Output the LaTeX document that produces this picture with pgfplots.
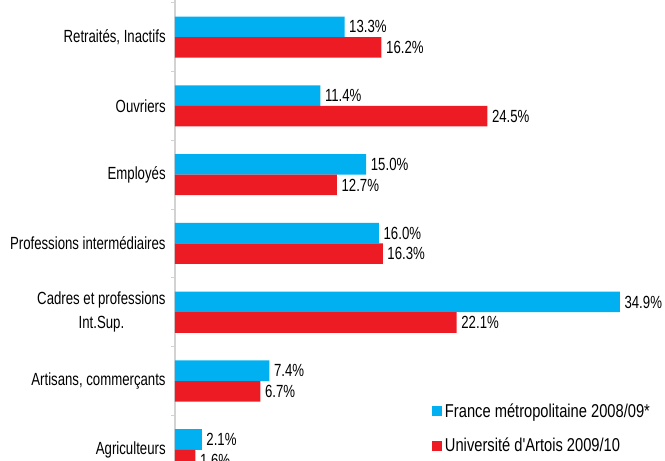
\documentclass[border=0pt]{standalone}
\usepackage{fontspec}
\setmainfont{Liberation Sans}[FakeStretch=0.75]
\newfontfamily\legfont{Liberation Sans}[FakeStretch=0.79]
\usepackage{pgfplots}
\pgfplotsset{compat=1.18}
\definecolor{bleu}{RGB}{0,176,240}
\definecolor{rouge}{RGB}{237,28,36}
\definecolor{axe}{RGB}{210,210,210}

\begin{document}
\begin{tikzpicture}
% 1px = 0.75pt, picture is 665 x 461 px, axis line at x = 175 px
\useasboundingbox (-131.25pt,0pt) rectangle (367.5pt,-345.75pt);
\clip (-131.25pt,0pt) rectangle (367.5pt,-345.75pt);
\begin{axis}[
    at={(0pt,0pt)}, anchor=north west,
    x=9.56pt, y=51.58pt,
    xmin=0, xmax=37,
    ymin=-0.5, ymax=6.54,
    xbar, bar width=15.4pt,
    axis x line=none,
    axis y line*=left,
    y axis line style={draw=axe, line width=0.8pt, -},
    ytick={0,...,6},
    yticklabels={Agriculteurs, {Artisans, commerçants}, {Cadres et professions\\Int.Sup.}, Professions intermédiaires, Employés, Ouvriers, {Retraités, Inactifs}},
    yticklabel style={align=center, font=\fontsize{13.2}{18}\selectfont, xshift=-3.5pt},
    major tick length=0pt,
    minor ytick={-0.5,0.5,...,6.5},
    minor tick length=3pt,
    tick align=outside,
    minor tick style={draw=axe, line width=0.8pt},
    point meta=x,
    nodes near coords={\pgfmathprintnumber[fixed,fixed zerofill,precision=1]{\pgfplotspointmeta}\%},
    nodes near coords style={font=\fontsize{13.2}{15}\selectfont, anchor=west, text=black},
    /pgf/number format/assume math mode=true,
    legend style={draw=none, fill=none, at={(0.545,0.115)}, anchor=west,
        font=\legfont\fontsize{13.95}{16}\selectfont, row sep=10pt, inner sep=0pt},
    legend cell align=left,
    legend image code/.code={\fill[#1,draw=none] (0pt,-3.75pt) rectangle (7.5pt,3.75pt);},
]
\addplot[fill=bleu, draw=none, bar shift=7.7pt] coordinates {
    (2.1,0) (7.4,1) (34.9,2) (16.0,3) (15.0,4) (11.4,5) (13.3,6)
};
\addlegendentry{France métropolitaine 2008/09*}
\addplot[fill=rouge, draw=none, bar shift=-7.7pt] coordinates {
    (1.6,0) (6.7,1) (22.1,2) (16.3,3) (12.7,4) (24.5,5) (16.2,6)
};
\addlegendentry{Université d'Artois 2009/10}
\end{axis}
\end{tikzpicture}
\end{document}
